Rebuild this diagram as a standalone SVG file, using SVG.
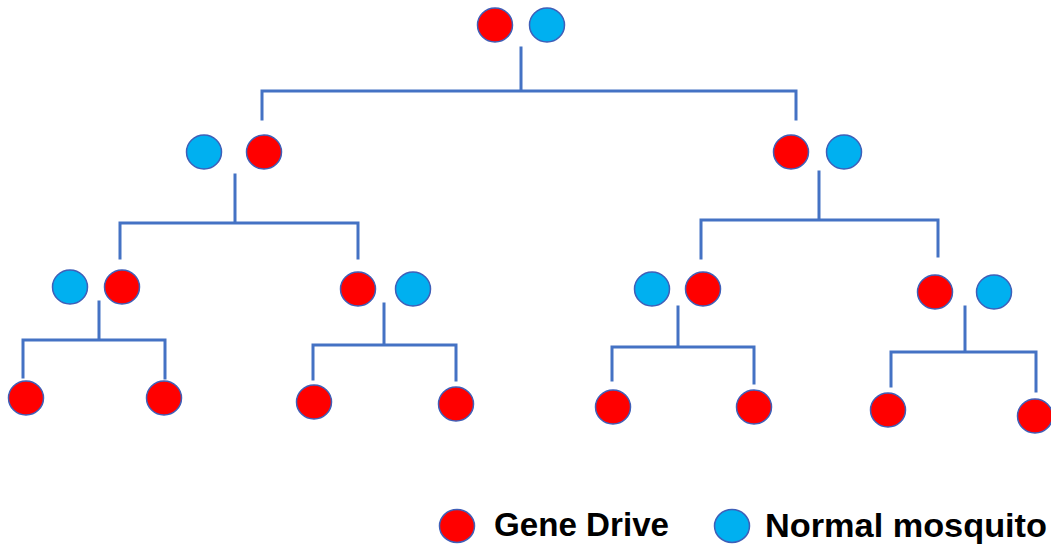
<svg xmlns="http://www.w3.org/2000/svg" width="1051" height="549" viewBox="0 0 1051 549">
<style>
.r{fill:#FF0000;stroke:#3F5FB8;stroke-width:1.5}
.b{fill:#00B0F0;stroke:#3F5FB8;stroke-width:1.5}
.c{fill:none;stroke:#4472C4;stroke-width:3;stroke-linecap:square}
.t{font-family:"Liberation Sans",Arial,sans-serif;font-weight:bold;font-size:33px;fill:#000}
</style>
<rect width="1051" height="549" fill="#fff"/>
<g id="connectors">
<path class="c" d="M521 48V91M262 119V91H796V119"/>
<path class="c" d="M235 175V223M120 258V223H358V258"/>
<path class="c" d="M819 172V220M701 258V220H938V256"/>
<path class="c" d="M99 302V340M23 377V340H165V378"/>
<path class="c" d="M384 304V345M313 379V345H456V380"/>
<path class="c" d="M678 307V347M612 380V347H754V383"/>
<path class="c" d="M965 307V352M891 386V352H1036V391"/>
</g>
<g id="n-root"><ellipse class="r" cx="495" cy="25" rx="17.5" ry="17"/><ellipse class="b" cx="547" cy="25" rx="17.5" ry="17"/></g>
<g id="n-l"><ellipse class="b" cx="204" cy="152" rx="17.5" ry="17"/><ellipse class="r" cx="264" cy="152" rx="17.5" ry="17"/></g>
<g id="n-r"><ellipse class="r" cx="791" cy="152" rx="17.5" ry="17"/><ellipse class="b" cx="844" cy="152" rx="17.5" ry="17"/></g>
<g id="n-ll"><ellipse class="b" cx="70" cy="287" rx="17.5" ry="17"/><ellipse class="r" cx="122" cy="287" rx="17.5" ry="17"/></g>
<g id="n-lr"><ellipse class="r" cx="358" cy="289" rx="17.5" ry="17"/><ellipse class="b" cx="413" cy="289" rx="17.5" ry="17"/></g>
<g id="n-rl"><ellipse class="b" cx="652" cy="289" rx="17.5" ry="17"/><ellipse class="r" cx="703" cy="289" rx="17.5" ry="17"/></g>
<g id="n-rr"><ellipse class="r" cx="935" cy="292" rx="17.5" ry="17"/><ellipse class="b" cx="994" cy="292" rx="17.5" ry="17"/></g>
<g id="c1"><ellipse class="r" cx="26" cy="398" rx="17.5" ry="17"/></g>
<g id="c2"><ellipse class="r" cx="164" cy="398" rx="17.5" ry="17"/></g>
<g id="c3"><ellipse class="r" cx="314" cy="402" rx="17.5" ry="17"/></g>
<g id="c4"><ellipse class="r" cx="456" cy="404" rx="17.5" ry="17"/></g>
<g id="c5"><ellipse class="r" cx="613" cy="407" rx="17.5" ry="17"/></g>
<g id="c6"><ellipse class="r" cx="754" cy="407" rx="17.5" ry="17"/></g>
<g id="c7"><ellipse class="r" cx="888" cy="410" rx="17.5" ry="17"/></g>
<g id="c8"><ellipse class="r" cx="1035" cy="416" rx="17.5" ry="17"/></g>
<g id="legend">
<ellipse class="r" cx="457" cy="526" rx="17.5" ry="16.5"/>
<text class="t" x="494" y="536" textLength="175" lengthAdjust="spacingAndGlyphs">Gene Drive</text>
<ellipse class="b" cx="732" cy="526" rx="17.5" ry="16.5"/>
<text class="t" x="765" y="537" textLength="282" lengthAdjust="spacingAndGlyphs">Normal mosquito</text>
</g>
</svg>
